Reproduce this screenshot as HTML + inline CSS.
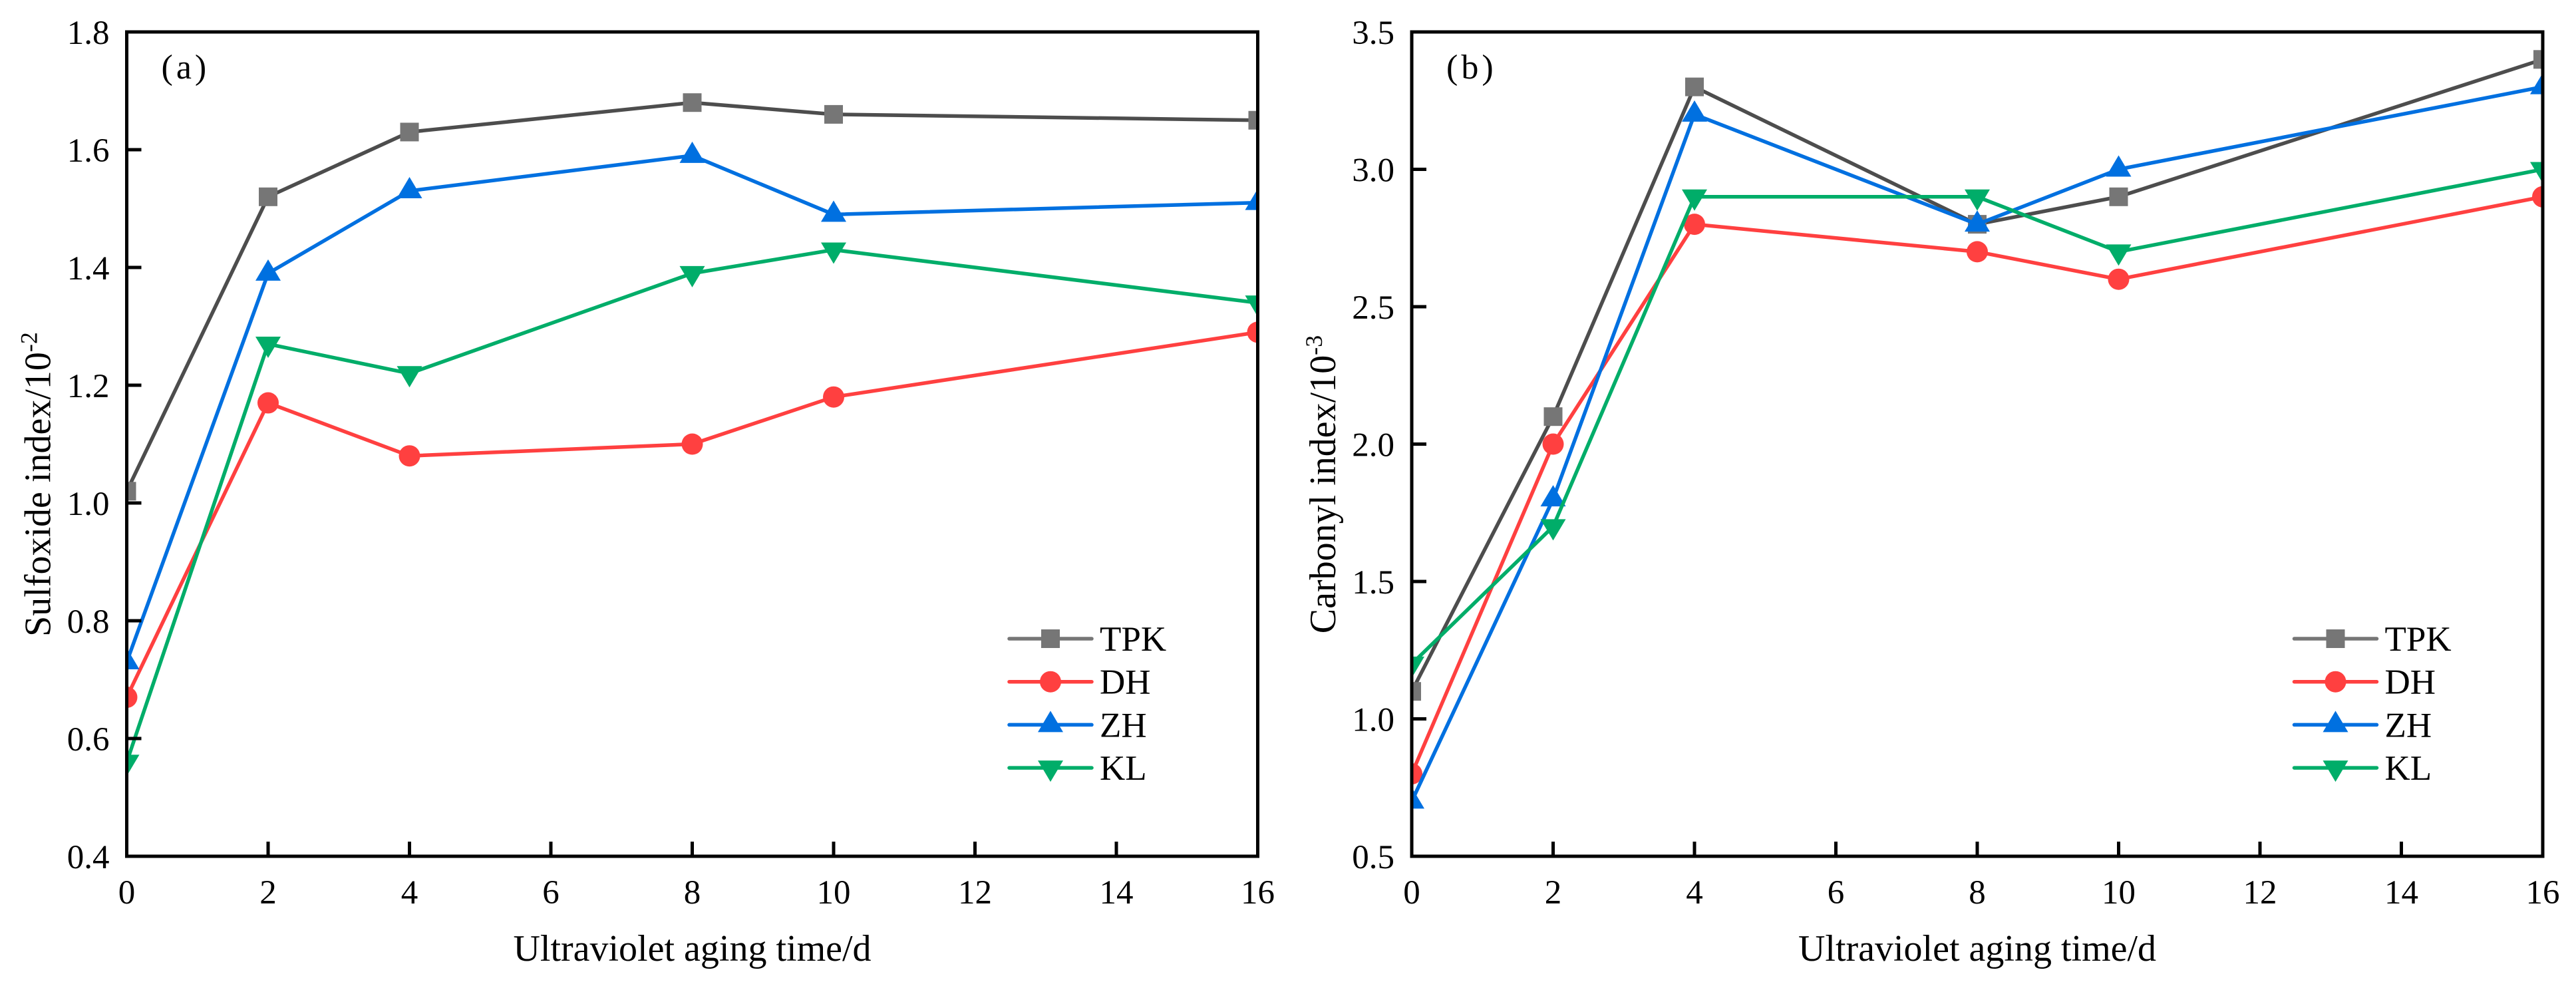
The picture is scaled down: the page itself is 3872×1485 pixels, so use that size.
<!DOCTYPE html>
<html><head><meta charset="utf-8"><style>
html,body{margin:0;padding:0;background:#fff;}
svg{display:block;font-family:"Liberation Serif",serif;}
</style></head><body>
<svg id="c" width="3872" height="1485" viewBox="0 0 3872 1485"></svg>
<script>
const xValues=[0,2,4,8,10,16];
const xTicks=[0,2,4,6,8,10,12,14,16];
const seriesNames=["TPK","DH","ZH","KL"];
const sulfTPK=[1.02,1.52,1.63,1.68,1.66,1.65];
const sulfDH=[0.67,1.17,1.08,1.10,1.18,1.29];
const sulfZH=[0.73,1.39,1.53,1.59,1.49,1.51];
const sulfKL=[0.56,1.27,1.22,1.39,1.43,1.34];
const carbTPK=[1.1,2.1,3.3,2.8,2.9,3.4];
const carbDH=[0.8,2.0,2.8,2.7,2.6,2.9];
const carbZH=[0.7,1.8,3.2,2.8,3.0,3.3];
const carbKL=[1.2,1.7,2.9,2.9,2.7,3.0];
const yTicksA=["0.4","0.6","0.8","1.0","1.2","1.4","1.6","1.8"];
const yTicksB=["0.5","1.0","1.5","2.0","2.5","3.0","3.5"];

const NS="http://www.w3.org/2000/svg";
const svg=document.getElementById('c');
function mk(tag,attrs,parent){const e=document.createElementNS(NS,tag);for(const k in attrs)e.setAttribute(k,attrs[k]);(parent||svg).appendChild(e);return e;}
const lineCol=["#4d4d4d","#ff4040","#0070e0","#00ad69"];
const markCol=["#767676","#ff4040","#0070e0","#00ad69"];
const shapes=["square","circle","up","down"];

function marker(g,shape,x,y,col){
  let e;
  if(shape==="square"){e=mk('rect',{x:x-14,y:y-14,width:28,height:28,fill:col},g);}
  else if(shape==="circle"){e=mk('circle',{cx:x,cy:y,r:16,fill:col},g);}
  else if(shape==="up"){e=mk('polygon',{points:`${x},${y-21} ${x+19},${y+11} ${x-19},${y+11}`,fill:col},g);}
  else {e=mk('polygon',{points:`${x},${y+21} ${x+19},${y-11} ${x-19},${y-11}`,fill:col},g);}
  
  
}

function panel(id,left,ymin,ymax,yTicks,data,label,ytitle,sup){
  const L=left,R=left+1700,T=48,B=1287;
  const xs=v=>L+(v-0)/(16-0)*(R-L);
  const ys=v=>B-(v-ymin)/(ymax-ymin)*(B-T);
  const g=mk('g',{});
  
  
  const cp=mk('clipPath',{id:'clip'+id},g);
  mk('rect',{x:L,y:T,width:R-L,height:B-T},cp);
  const sg=mk('g',{'clip-path':`url(#clip${id})`},g);
  data.forEach((vals,si)=>{
    const s=mk('g',{},sg);
    
    
    const pts=vals.map((v,i)=>xs(xValues[i])+','+ys(v)).join(' ');
    const pl=mk('polyline',{points:pts,fill:'none',stroke:lineCol[si],'stroke-width':5.5,'stroke-linejoin':'round'},s);
    
    
    vals.forEach((v,i)=>marker(s,shapes[si],xs(xValues[i]),ys(v),markCol[si]));
  });
  // axes frame
  const fr=mk('rect',{x:L,y:T,width:R-L,height:B-T,fill:'none',stroke:'#000','stroke-width':5},g);
  
  
  xTicks.forEach(t=>{
    const x=xs(t);
    if(t>0&&t<16) mk('line',{x1:x,y1:B,x2:x,y2:B-22,stroke:'#000','stroke-width':5},g);
    const tx=mk('text',{x:x,y:1358,'font-size':51,'text-anchor':'middle'},g);
    tx.textContent=t;
    
    
  });
  yTicks.forEach(t=>{
    const y=ys(parseFloat(t));
    if(y>T+3&&y<B-3) mk('line',{x1:L,y1:y,x2:L+22,y2:y,stroke:'#000','stroke-width':5},g);
    const tx=mk('text',{x:L-26,y:y+18,'font-size':51,'text-anchor':'end'},g);
    tx.textContent=t;
    
    
  });
  const lab=mk('text',{x:L+52,y:118,'font-size':52,'letter-spacing':5},g);
  lab.textContent=label;
  
  
  const xt=mk('text',{x:(L+R)/2,y:1444,'font-size':56,'text-anchor':'middle'},g);
  xt.textContent='Ultraviolet aging time/d';
  
  
  const yt=mk('text',{x:0,y:0,'font-size':56,'text-anchor':'middle',transform:`translate(${L-115},728) rotate(-90)`},g);
  yt.textContent=ytitle;
  const sp=mk('tspan',{'baseline-shift':'super','font-size':36},yt);
  sp.textContent=sup;
  
  
  // legend
  const lg=mk('g',{},g);
  
  
  const off=L-190.5;
  seriesNames.forEach((n,i)=>{
    const y=960+i*64.7;
    const e=mk('g',{},lg);
    
    
    mk('line',{x1:1517+off,y1:y,x2:1641+off,y2:y,stroke:i===0?'#767676':lineCol[i],'stroke-width':5.5,'stroke-linecap':'round'},e);
    marker(e,shapes[i],1579+off,y,markCol[i]);
    const t=mk('text',{x:1653+off,y:y+18,'font-size':53},e);
    t.textContent=n;
  });
}
panel('a',190.5,0.4,1.8,yTicksA,[sulfTPK,sulfDH,sulfZH,sulfKL],'(a)','Sulfoxide index/10','-2');
panel('b',2122,0.5,3.5,yTicksB,[carbTPK,carbDH,carbZH,carbKL],'(b)','Carbonyl index/10','-3');
</script>
</body></html>
